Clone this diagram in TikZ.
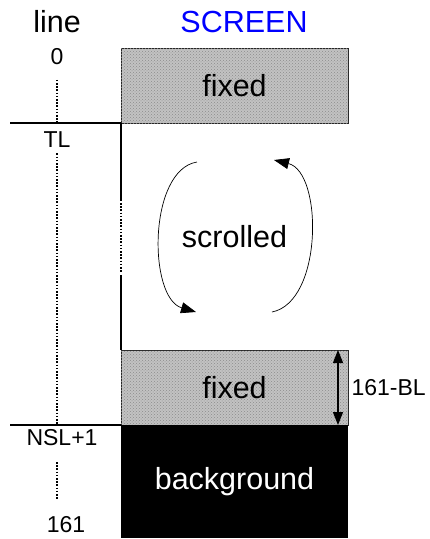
\documentclass[tikz,border=0pt]{standalone}
\usepackage{fontspec}
\setmainfont{Liberation Sans}
\usepackage{xcolor}
\usetikzlibrary{arrows.meta,positioning,patterns}
\definecolor{shade}{HTML}{C2C2C2}
\newcommand{\bigtxt}{\fontsize{30.5}{34}\selectfont}
\newcommand{\smalltxt}{\fontsize{23}{26}\selectfont}
\tikzset{region/.style={outer sep=0pt,inner sep=0pt,minimum width=227pt},fixedbox/.style={region,draw=black!85,line width=.8pt,fill=shade,postaction={pattern=crosshatch dots,pattern color=black!45}},rule/.style={draw=black,line width=1.6pt},dotrule/.style={draw=black,line width=1.6pt,dash pattern=on 1.6pt off 1.6pt},turn/.style={-{Triangle[length=15pt,width=11pt]},line width=.7pt},span/.style={{Triangle[length=13pt,width=10pt]}-{Triangle[length=13pt,width=10pt]},line width=1.1pt}}

\begin{document}
\begin{tikzpicture}[x=1pt,y=-1pt]
\useasboundingbox (0,0) rectangle (430,539);
% screen regions, top to bottom
\node[fixedbox,minimum height=75pt] (topfix) at (234.5,85.5) {\bigtxt fixed};
\node[region,minimum height=227pt,below=0pt of topfix] (scroll) {\bigtxt scrolled};
\node[fixedbox,minimum height=75pt,below=0pt of scroll] (botfix) {\bigtxt fixed};
\node[region,fill=black,text=white,minimum height=113pt,below=0pt of botfix] (bg) {\bigtxt background};
% headings
\node[anchor=base] (linehead) at (57,32) {\bigtxt line};
\node[anchor=base,text=blue] (screenhead) at (244,32) {\bigtxt SCREEN};
% line numbers
\coordinate (tlend) at (10,123);
\coordinate (nslend) at (10,425);
\node[anchor=base] (zero) at (57,64) {\smalltxt 0};
\node (tl) at (57,140) {\smalltxt TL};
\node (nsl) at (62,438) {\smalltxt NSL+1};
\node (last) at (66,525) {\smalltxt 161};
\draw[rule] (tlend)--(topfix.south west);
\draw[rule] (nslend)--(bg.north west);
\draw[dotrule] ([yshift=-12pt]zero.south)--(zero |- tlend);
\draw[dotrule] ([yshift=-2pt]tl.south)--(tl |- nslend);
\draw[dotrule] (57,462)--(57,500);
% left edge of scrolled part
\draw[rule] (scroll.north west)--([yshift=-78pt]scroll.north west);
\draw[dotrule] ([yshift=-80pt]scroll.north west)--([yshift=-150pt]scroll.north west);
\draw[rule] ([yshift=-152pt]scroll.north west)--(scroll.south west);
% scrolling arrows
\coordinate (la) at (197,162);\coordinate (lb) at (196,312);
\coordinate (ra) at (272,312);\coordinate (rb) at (274,160);
\draw[turn] (la) .. controls (148,170) and (148,298) .. (lb);
\draw[turn] (ra) .. controls (323,302) and (323,172) .. (rb);
% height of bottom fixed part
\draw[span] ([xshift=-10pt]botfix.north east)--([xshift=-10pt]botfix.south east);
\node[right=0pt of botfix] (bl) {\smalltxt 161-BL};
\end{tikzpicture}
\end{document}
